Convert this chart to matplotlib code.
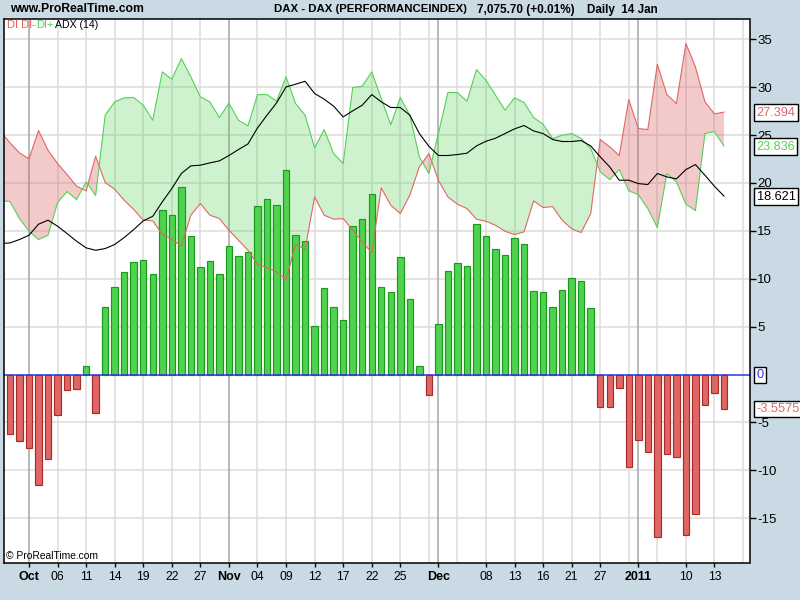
import numpy as np
import matplotlib
matplotlib.use("Agg")
import matplotlib.pyplot as plt
from matplotlib.ticker import FixedLocator

plt.rcParams['font.family'] = ['Liberation Sans', 'DejaVu Sans']
NARROW = ['Liberation Sans Narrow', 'Liberation Sans', 'DejaVu Sans']

BG = '#c9dae4'
macd_hist = [-6.16,-6.89,-7.62,-11.48,-8.77,-4.18,-1.57,-1.46,0.94,-3.97,
             7.1,9.1,10.7,11.7,12.0,10.5,17.15,16.7,19.6,14.5,11.2,11.8,10.5,13.4,12.4,12.8,
             17.6,18.3,17.7,21.3,14.6,13.9,5.1,9.0,7.1,5.7,15.5,16.2,18.8,9.1,8.6,12.3,7.9,0.94,-2.09,
             5.3,10.8,11.6,11.3,15.7,14.5,13.1,12.5,14.3,13.6,8.7,8.6,7.0,8.8,10.1,9.8,6.9,
             -3.44,-3.34,-1.36,-9.6,-6.8,-8.04,-17.0,-8.25,-8.56,-16.8,-14.6,-3.13,-1.88,-3.5575]

di_minus = [25.40,24.18,23.13,22.51,25.47,23.41,22.02,20.87,19.65,19.17,22.79,20.04,19.34,18.19,17.22,16.11,16.04,
            14.61,14.12,13.39,16.63,17.85,16.63,16.28,15.06,14.02,12.97,11.51,11.13,10.71,9.91,13.60,13.08,18.54,
            16.63,16.21,16.28,15.06,13.84,12.73,19.48,17.67,16.80,18.72,21.67,23.06,20.28,18.54,17.78,17.32,16.21,
            16.00,15.58,14.96,14.61,14.89,18.12,17.43,17.53,16.11,15.20,14.82,16.80,24.53,23.76,22.86,28.70,25.67,
            25.57,32.39,29.22,28.28,34.55,32.11,28.46,27.20,27.394]

di_plus = [18.16,18.05,16.28,14.96,14.09,14.54,17.95,19.10,18.26,20.11,18.68,27.07,28.46,28.88,28.91,28.11,26.54,
           31.59,30.82,32.98,31.07,28.98,28.46,26.82,28.32,26.54,25.95,29.22,29.22,28.53,31.07,28.28,27.07,23.66,
           25.57,23.06,22.02,29.95,30.09,31.59,28.81,26.06,28.91,27.07,22.72,20.98,25.15,29.43,29.43,28.53,31.83,
           30.72,29.15,27.59,28.88,28.39,26.82,26.13,24.63,24.98,25.15,24.63,23.59,21.15,20.35,21.39,19.17,18.78,
           17.32,15.34,20.98,20.11,17.78,17.11,25.15,25.36,23.836]

adx = [13.67,13.74,14.09,14.54,15.69,16.11,15.48,14.71,13.91,13.22,12.97,13.15,13.57,14.30,15.13,16.04,16.52,18.02,
       19.41,20.98,21.78,21.85,22.09,22.30,22.86,23.48,24.07,25.74,27.07,28.35,30.02,30.30,30.61,29.33,28.74,28.01,
       26.89,27.52,28.11,29.22,28.46,27.87,27.87,27.07,25.15,23.83,22.86,22.86,22.96,23.10,23.86,24.35,24.66,25.15,
       25.64,25.99,25.43,25.15,24.53,24.32,24.32,24.42,23.86,22.72,21.67,20.28,20.28,19.93,19.83,20.98,20.63,20.42,
       21.39,21.92,20.80,19.65,18.621]

tick_pos = [2,5,8,11,14,17,20,23,26,29,32,35,38,41,45,50,53,56,59,62,66,71,74]
tick_labels = ['Oct','06','11','14','19','22','27','Nov','04','09','12','17','22','25','Dec',
               '08','13','16','21','27','2011','10','13']
bold_labels = {'Oct','Nov','Dec','2011'}
major_grid = [2,23,45,66]
minor_grid = [5,8,11,14,17,20,26,29,32,35,38,41,44,47,50,53,56,59,62,65,68,71,74,77]
y_ticks = [35,30,25,20,15,10,5,-5,-10,-15]
y_grid = [35,30,25,20,15,10,5,-5,-10,-15]

fig = plt.figure(figsize=(8,6), dpi=100, facecolor=BG)
ax = fig.add_axes([3.5/800, 1-562.5/600, 746/800, 544/600], facecolor='white')
ax.set_xlim(-0.68, 77.68)
ax.set_ylim(-19.62, 37.16)

for g in y_grid:
    ax.axhline(g, color='#dcdcdc', lw=1.1, zorder=1)
for g in minor_grid:
    ax.axvline(g, color='#dcdcdc', lw=1.1, zorder=1)
for g in major_grid:
    ax.axvline(g, color='#a6a6a6', lw=1.1, zorder=1)

xl = np.arange(-1, 76)
xb = np.arange(0, 76)
mi = np.array(di_minus); pl = np.array(di_plus)
ax.fill_between(xl, mi, pl, where=pl >= mi, interpolate=True, color='#4fd24f', alpha=0.28, lw=0, zorder=2)
ax.fill_between(xl, mi, pl, where=pl <= mi, interpolate=True, color='#d95f5f', alpha=0.33, lw=0, zorder=2)

h = np.array(macd_hist)
ax.bar(xb[h >= 0], h[h >= 0], width=0.68, color='#4fd24f', edgecolor='#1a9a1a', lw=0.85, zorder=3)
ax.bar(xb[h < 0], h[h < 0], width=0.68, color='#e06666', edgecolor='#aa2a2a', lw=0.85, zorder=3)

ax.plot(xl, mi, color='#e06666', lw=0.8, zorder=4)
ax.plot(xl, pl, color='#55d055', lw=0.8, zorder=4)
ax.plot(xl, adx, color='black', lw=0.8, zorder=5)
ax.axhline(0, color='#2a35e0', lw=1.1, zorder=6)

for s in ax.spines.values():
    s.set_linewidth(1.1)
    s.set_color('black')
    s.set_zorder(10)

ax.yaxis.tick_right()
ax.yaxis.set_major_locator(FixedLocator(y_ticks))
ax.set_yticklabels([str(v) for v in y_ticks], family=NARROW)
ax.tick_params(axis='y', direction='out', length=4, width=1, pad=1.5, labelsize=9.5, colors='black')
ax.xaxis.set_major_locator(FixedLocator(tick_pos))
ax.set_xticklabels(tick_labels)
ax.tick_params(axis='x', direction='out', length=3, width=1, pad=3, labelsize=8.7)
for t in ax.get_xticklabels():
    if t.get_text() in bold_labels:
        t.set_fontweight('bold')
        t.set_fontsize(9)

def boxed(val, txt, col, x=756):
    fig.text((x+0.5)/800, 1-(375.1-val*9.58)/600, txt, color=col, fontsize=9.2, family=NARROW, ha='left', va='center',
             zorder=20, bbox=dict(boxstyle='square,pad=0.18', fc='white', ec='black', lw=1.0))

boxed(di_minus[-1], '27.394', '#e06666')
boxed(di_plus[-1], '23.836', '#55d055')
boxed(adx[-1], '18.621', 'black')
boxed(0, '0', '#2a35e0')
boxed(macd_hist[-1], '-3.5575', '#e06666')

def px(x, y, s, **kw):
    fig.text(x/800, 1-y/600, s, va='center', ha='left', **kw)

px(10, 9.5, 'www.ProRealTime.com', fontsize=8.7, fontweight='bold', color='black')
px(274, 9.5, 'DAX - DAX (PERFORMANCEINDEX)', fontsize=8.2, fontweight='bold', color='black')
px(477, 9.5, '7,075.70 (+0.01%)', fontsize=8.5, fontweight='bold', color='black')
px(587, 9.5, 'Daily  14 Jan', fontsize=8.4, fontweight='bold', color='black')
px(7, 24.5, 'DI DI-', fontsize=8, color='#e06666')
px(36.5, 24.5, 'DI+', fontsize=8, color='#55d055')
px(55, 24.5, 'ADX (14)', fontsize=7.6, color='black')
px(6, 556, '© ProRealTime.com', fontsize=7.4, color='black')

fig.savefig('out.png', dpi=100, facecolor=BG)
